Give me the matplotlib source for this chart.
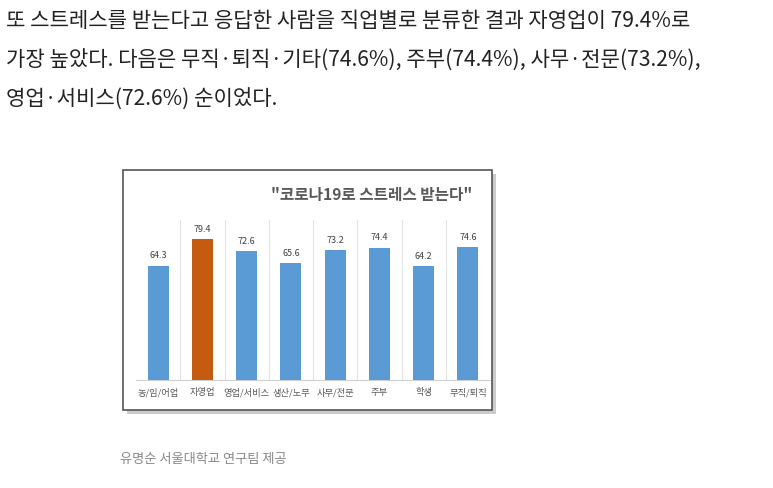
import matplotlib
matplotlib.use("Agg")
import matplotlib.pyplot as plt
from matplotlib.patches import Rectangle

plt.rcParams["font.family"] = ["Noto Sans CJK KR", "Noto Sans CJK JP", "Noto Sans CJK SC", "DejaVu Sans"]

categories = ["농/임/어업", "자영업", "영업/서비스", "생산/노무", "사무/전문", "주부", "학생", "무직/퇴직"]
values = [64.3, 79.4, 72.6, 65.6, 73.2, 74.4, 64.2, 74.6]
colors = ["#5b9bd5", "#c55a11", "#5b9bd5", "#5b9bd5", "#5b9bd5", "#5b9bd5", "#5b9bd5", "#5b9bd5"]

W, H = 773, 488
fig = plt.figure(figsize=(W/100, H/100), dpi=100)
fig.patch.set_facecolor("white")

def fx(x): return x / W
def fy(y): return 1 - y / H

lines = ["또 스트레스를 받는다고 응답한 사람을 직업별로 분류한 결과 자영업이 79.4%로",
         "가장 높았다. 다음은 무직·퇴직·기타(74.6%), 주부(74.4%), 사무·전문(73.2%),",
         "영업·서비스(72.6%) 순이었다."]
for i, t in enumerate(lines):
    fig.text(fx(6), fy(21 + i*39.5), t, fontsize=15.2, color="#222222", va="center", ha="left")

# frame with shadow
fig.patches.append(Rectangle((fx(127), fy(414)), fx(496)-fx(127), fy(174)-fy(414),
                             transform=fig.transFigure, facecolor="#cccccc", edgecolor="none", zorder=0))
fig.patches.append(Rectangle((fx(123), fy(410)), fx(492)-fx(123), fy(170)-fy(410),
                             transform=fig.transFigure, facecolor="white", edgecolor="#555555", lw=1.2, zorder=1))

fig.text(fx(372), fy(195), "\"코로나19로 스트레스 받는다\"", fontsize=11.3, fontweight="bold", color="#595959",
         ha="center", va="center", zorder=3)

ax = fig.add_axes([fx(136), fy(380), fx(490)-fx(136), fy(220)-fy(380)], zorder=2)
ax.set_facecolor("none")
x = range(len(categories))
ax.bar(x, values, width=0.47, color=colors, zorder=3)
for xi, v in zip(x, values):
    ax.text(xi, v + 3, f"{v}", ha="center", va="bottom", fontsize=6.5, color="#404040")
ax.set_xlim(-0.5, len(categories) - 0.5)
ax.set_ylim(0, 90)
for b in range(1, len(categories)):
    ax.axvline(b - 0.5, color="#e3e3e3", lw=0.8, zorder=1)
ax.set_xticks(list(x))
ax.set_xticklabels(categories, fontsize=6.7, color="#595959")
ax.tick_params(axis="x", length=0, pad=6)
ax.set_yticks([])
for s in ["top", "right", "left"]:
    ax.spines[s].set_visible(False)
ax.spines["bottom"].set_color("#d0d0d0")

fig.text(fx(120), fy(459), "유명순 서울대학교 연구팀 제공", fontsize=9.5, color="#888888", ha="left", va="center")

fig.savefig("out.png", dpi=100)
